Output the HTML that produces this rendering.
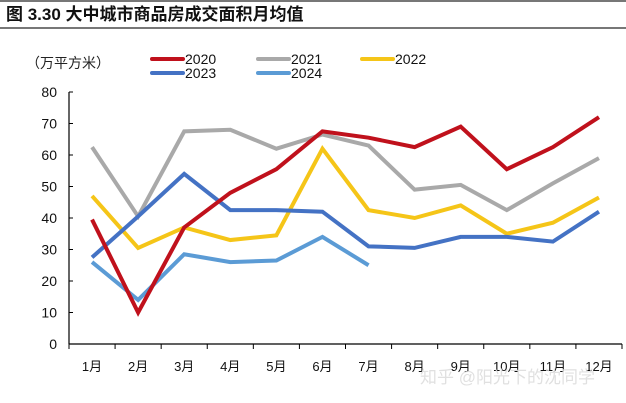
<!DOCTYPE html>
<html><head><meta charset="utf-8"><style>
body{margin:0;background:#fff;}
svg{display:block;font-family:"Liberation Sans","Noto Sans CJK SC",sans-serif;}
</style></head><body>
<svg width="626" height="403">
<line x1="0" y1="1" x2="626" y2="1" stroke="#777" stroke-width="2"/>
<text x="6" y="20" font-size="17" font-weight="bold" fill="#111">图 3.30 大中城市商品房成交面积月均值</text>
<line x1="0" y1="28" x2="626" y2="28" stroke="#777" stroke-width="2"/>
<text x="26" y="68" font-size="14" fill="#222">（万平方米）</text>
<g id="legend"></g>
<g id="axes"></g>
<g id="series"></g>
<text x="420" y="383" font-size="17" fill="#ddd" opacity="0.9">知乎 @阳光下的沈同学</text>
</svg>
<script>
const months=["1月","2月","3月","4月","5月","6月","7月","8月","9月","10月","11月","12月"];
const yTicks=[0,10,20,30,40,50,60,70,80];
const years=["2020","2021","2022","2023","2024"];
const colors=["#c0111c","#a9a9a9","#f5c518","#4472c4","#5b9bd5"];
const s2020=[39.5,10,37,48,55.5,67.5,65.5,62.5,69,55.5,62.5,72];
const s2021=[62.5,40.5,67.5,68,62,66.5,63,49,50.5,42.5,51,59];
const s2022=[47,30.5,37,33,34.5,62,42.5,40,44,35,38.5,46.5];
const s2023=[27.5,40.5,54,42.5,42.5,42,31,30.5,34,34,32.5,42];
const s2024=[26,14,28.5,26,26.5,34,25];
const NS="http://www.w3.org/2000/svg";
const x0=69,x1=622,y0=344,y1=92;
const step=(x1-x0)/12;
const xs=i=>x0+step*(i+0.5);
const ys=v=>y0-(v/80)*(y0-y1);
function mk(t,a,p){const e=document.createElementNS(NS,t);for(const k in a)e.setAttribute(k,a[k]);p.appendChild(e);return e;}
const ax=document.getElementById('axes');
let l=mk('line',{x1:x0,y1:y0,x2:x0,y2:y1,stroke:'#000','stroke-width':1.2},ax);


l=mk('line',{x1:x0,y1:y0,x2:x1,y2:y0,stroke:'#000','stroke-width':1.2},ax);


yTicks.forEach(v=>{
 mk('line',{x1:x0,y1:ys(v),x2:x0+4,y2:ys(v),stroke:'#000'},ax);
 const t=mk('text',{x:x0-12,y:ys(v)+5,'font-size':14,'text-anchor':'end',fill:'#111'},ax);t.textContent=v;
 
 
});
for(let i=0;i<=12;i++)mk('line',{x1:x0+step*i,y1:y0,x2:x0+step*i,y2:y0+5,stroke:'#000'},ax);
months.forEach((m,i)=>{
 const t=mk('text',{x:xs(i),y:y0+27,'font-size':13,'text-anchor':'middle',fill:'#111'},ax);t.textContent=m;
 
 
});
const data=[s2020,s2021,s2022,s2023,s2024];
const sg=document.getElementById('series');
[1,2,4,3,0].forEach(k=>{
 const p=mk('polyline',{points:data[k].map((v,i)=>xs(i)+','+ys(v)).join(' '),fill:'none',stroke:colors[k],'stroke-width':4,'stroke-linejoin':'miter'},sg);
 
 
});
const lg=document.getElementById('legend');
const lpos=[[152,59],[258,59],[362,59],[152,73],[258,73]];
years.forEach((y,k)=>{
 const [lx,ly]=lpos[k];
 const ln=mk('line',{x1:lx,y1:ly,x2:lx+31,y2:ly,stroke:colors[k],'stroke-width':4,'stroke-linecap':'round'},lg);
 
 
 const t=mk('text',{x:lx+33,y:ly+5,'font-size':14,fill:'#111'},lg);t.textContent=y;
 
 
});
</script>
</body></html>
